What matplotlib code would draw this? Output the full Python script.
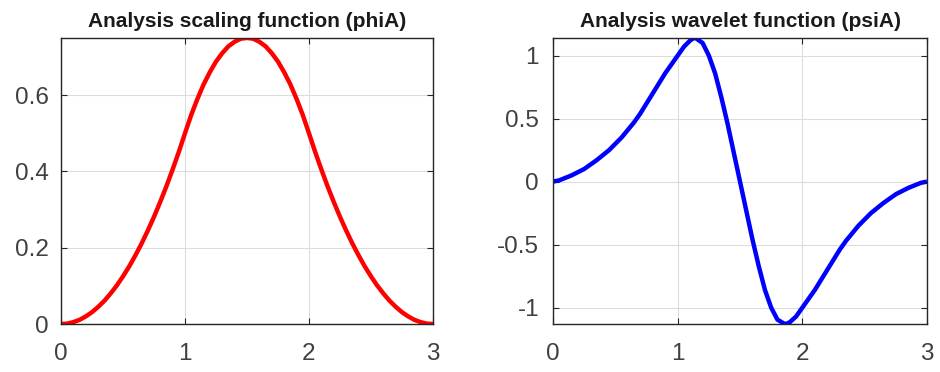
import matplotlib.pyplot as plt

plt.rcParams['font.family'] = ['Liberation Sans', 'DejaVu Sans']

# scaling function phiA
phi_x = [0.0, 0.05, 0.1, 0.15, 0.2, 0.25, 0.3, 0.35, 0.4, 0.45, 0.5, 0.55, 0.6, 0.65, 0.7, 0.75,
         0.8, 0.85, 0.9, 0.95, 1.0, 1.05, 1.1, 1.15, 1.2, 1.25, 1.3, 1.35, 1.4, 1.45, 1.5,
         1.55, 1.6, 1.65, 1.7, 1.75, 1.8, 1.85, 1.9, 1.95, 2.0, 2.05, 2.1, 2.15, 2.2, 2.25,
         2.3, 2.35, 2.4, 2.45, 2.5, 2.55, 2.6, 2.65, 2.7, 2.75, 2.8, 2.85, 2.9, 2.95, 3.0]
phi_y = [0.0, 0.001, 0.005, 0.011, 0.02, 0.031, 0.045, 0.061, 0.08, 0.101, 0.125, 0.151, 0.18, 0.211, 0.245, 0.281,
         0.32, 0.361, 0.405, 0.451, 0.5, 0.548, 0.59, 0.628, 0.66, 0.688, 0.71, 0.728, 0.74, 0.748, 0.75,
         0.748, 0.74, 0.728, 0.71, 0.688, 0.66, 0.628, 0.59, 0.548, 0.5, 0.451, 0.405, 0.361, 0.32, 0.281,
         0.245, 0.211, 0.18, 0.151, 0.125, 0.101, 0.08, 0.061, 0.045, 0.031, 0.02, 0.011, 0.005, 0.001, 0.0]

# wavelet function psiA
psi_x = [0.0, 0.05, 0.1, 0.15, 0.2, 0.25, 0.3, 0.35, 0.4, 0.45, 0.5, 0.55, 0.6, 0.65, 0.7, 0.75,
         0.8, 0.85, 0.9, 0.95, 1.0, 1.05, 1.1, 1.13, 1.15, 1.2, 1.25, 1.3, 1.35, 1.4, 1.45, 1.5,
         1.55, 1.6, 1.65, 1.7, 1.75, 1.8, 1.85, 1.87, 1.9, 1.95, 2.0, 2.05, 2.1, 2.15, 2.2, 2.25,
         2.3, 2.35, 2.4, 2.45, 2.5, 2.55, 2.6, 2.65, 2.7, 2.75, 2.8, 2.85, 2.9, 2.95, 3.0]
psi_y = [0.0, 0.01, 0.03, 0.05, 0.075, 0.10, 0.135, 0.17, 0.21, 0.25, 0.30, 0.35, 0.41, 0.47, 0.54, 0.62,
         0.70, 0.78, 0.86, 0.93, 1.00, 1.07, 1.12, 1.14, 1.135, 1.10, 1.00, 0.86, 0.67, 0.46, 0.23, 0.0,
         -0.23, -0.46, -0.67, -0.86, -1.00, -1.095, -1.125, -1.13, -1.115, -1.07, -1.00, -0.93, -0.86, -0.78, -0.70, -0.62,
         -0.54, -0.47, -0.41, -0.35, -0.30, -0.25, -0.21, -0.17, -0.135, -0.10, -0.075, -0.05, -0.03, -0.01, 0.0]

fig = plt.figure(figsize=(9.4, 3.72), dpi=100)
ax1 = fig.add_axes([0.0649, 0.129, 0.3957, 0.769])
ax2 = fig.add_axes([0.5883, 0.129, 0.3979, 0.769])


def style(ax, title, xt, yt, ylab, ypad):
    ax.set_title(title, fontsize=15, fontweight='bold', color='#1a1a1a', pad=8)
    ax.set_xlim(0, 3)
    ax.set_xticks(xt)
    ax.set_yticks(yt)
    ax.set_yticklabels(ylab)
    ax.grid(True, color='#dcdcdc', lw=0.8)
    ax.set_axisbelow(True)
    ax.tick_params(direction='in', length=4, width=0.8, color='#262626',
                   top=True, right=True, labelsize=17.5, labelcolor='#404040')
    ax.tick_params(axis='x', pad=14)
    ax.tick_params(axis='y', pad=ypad)
    for s in ax.spines.values():
        s.set_color('#262626')
        s.set_linewidth(1.0)


ax1.plot(phi_x, phi_y, color='#ff0000', lw=3.2, solid_capstyle='butt')
ax1.set_ylim(0, max(phi_y))
style(ax1, 'Analysis scaling function (phiA)', [0, 1, 2, 3], [0, 0.2, 0.4, 0.6],
      ['0', '0.2', '0.4', '0.6'], 9)

ax2.plot(psi_x, psi_y, color='#0000ff', lw=3.2, solid_capstyle='butt')
ax2.set_ylim(min(psi_y), max(psi_y))
style(ax2, 'Analysis wavelet function (psiA)', [0, 1, 2, 3], [-1, -0.5, 0, 0.5, 1],
      ['-1', '-0.5', '0', '0.5', '1'], 10)

fig.savefig('out.png', dpi=100)
